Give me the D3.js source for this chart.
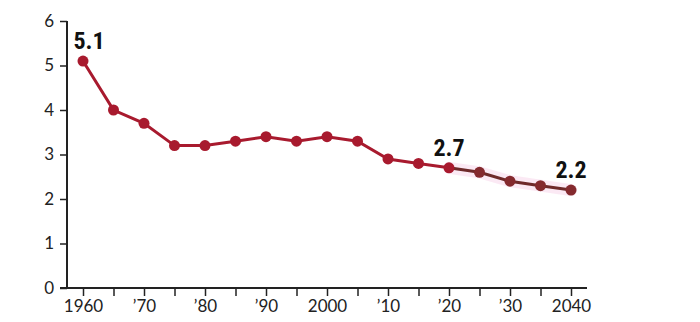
<!DOCTYPE html>
<html><head><meta charset="utf-8">
<script src="https://cdn.jsdelivr.net/npm/d3@7"></script>
<style>body{margin:0;background:#fff}svg{display:block}</style>
</head><body>
<svg id="c" width="700" height="322"></svg>
<script>
const years = [1960,1965,1970,1975,1980,1985,1990,1995,2000,2005,2010,2015,2020,2025,2030,2035,2040];
const values = [5.1,4.0,3.7,3.2,3.2,3.3,3.4,3.3,3.4,3.3,2.9,2.8,2.7,2.6,2.4,2.3,2.2];
const xTickYears = [1960,1965,1970,1975,1980,1985,1990,1995,2000,2005,2010,2015,2020,2025,2030,2035,2040];
const xTickLabels = {1960:"1960",1970:"’70",1980:"’80",1990:"’90",2000:"2000",2010:"’10",2020:"’20",2030:"’30",2040:"2040"};
const yTicks = [0,1,2,3,4,5,6];
const labeled = [{year:1960,text:"5.1"},{year:2020,text:"2.7"},{year:2040,text:"2.2"}];
const projStart = 2020;

const svg = d3.select("#c");
const x = d3.scaleLinear().domain([1960,2040]).range([83,571]);
const y = d3.scaleLinear().domain([0,6]).range([288,21]);
const font = "Lato, 'Open Sans', sans-serif";

const ya = svg.append("g").attr("transform","translate(67,0)")
  .call(d3.axisLeft(y).tickValues(yTicks).tickSize(7).tickPadding(6).tickFormat(d3.format("d")));
ya.select(".domain").attr("d","M0,21V288").attr("stroke","#222").attr("stroke-width",2);
ya.selectAll(".tick line").attr("stroke","#222").attr("stroke-width",1.5);
ya.selectAll("text").attr("font-family",font).attr("font-size",17).attr("fill","#222");

const xa = svg.append("g").attr("transform","translate(0,288)")
  .call(d3.axisBottom(x).tickValues(xTickYears).tickSize(8).tickPadding(4).tickFormat(d=>xTickLabels[d]||""));
xa.select(".domain").attr("d","M60,0H587").attr("stroke","#222").attr("stroke-width",2);
xa.selectAll(".tick line").attr("stroke","#222").attr("stroke-width",1.5);
xa.selectAll("text").attr("font-family",font).attr("font-size",17).attr("fill","#222");

const data = years.map((yr,i)=>({yr,v:values[i]}));
const hist = data.filter(d=>d.yr<=projStart);
const proj = data.filter(d=>d.yr>=projStart);
const line = d3.line().x(d=>x(d.yr)).y(d=>y(d.v));

svg.append("path").datum(proj).attr("d",line).attr("fill","none")
  .attr("stroke","#f9e0ef").attr("stroke-width",12).attr("stroke-linecap","round").attr("opacity",0.7);

svg.append("path").datum(hist).attr("d",line).attr("fill","none")
  .attr("stroke","#a81a2e").attr("stroke-width",3);
svg.append("path").datum(proj).attr("d",line).attr("fill","none")
  .attr("stroke","#6e2a2a").attr("stroke-width",3);

svg.selectAll("circle.d").data(data).join("circle")
  .attr("cx",d=>x(d.yr)).attr("cy",d=>y(d.v)).attr("r",5.5)
  .attr("fill",d=>d.yr>projStart?"#842a2e":"#a81a2e");

svg.selectAll("text.lab").data(labeled).join("text")
  .attr("x",d=>x(d.year)+ (d.year===1960?6:0)).attr("y",d=>y(values[years.indexOf(d.year)])-12)
  .attr("text-anchor","middle").attr("font-family","'Liberation Sans Narrow','Roboto Condensed',Roboto,sans-serif")
  .attr("font-weight","bold").attr("font-size",24).attr("fill","#111").text(d=>d.text);
</script>
</body></html>
